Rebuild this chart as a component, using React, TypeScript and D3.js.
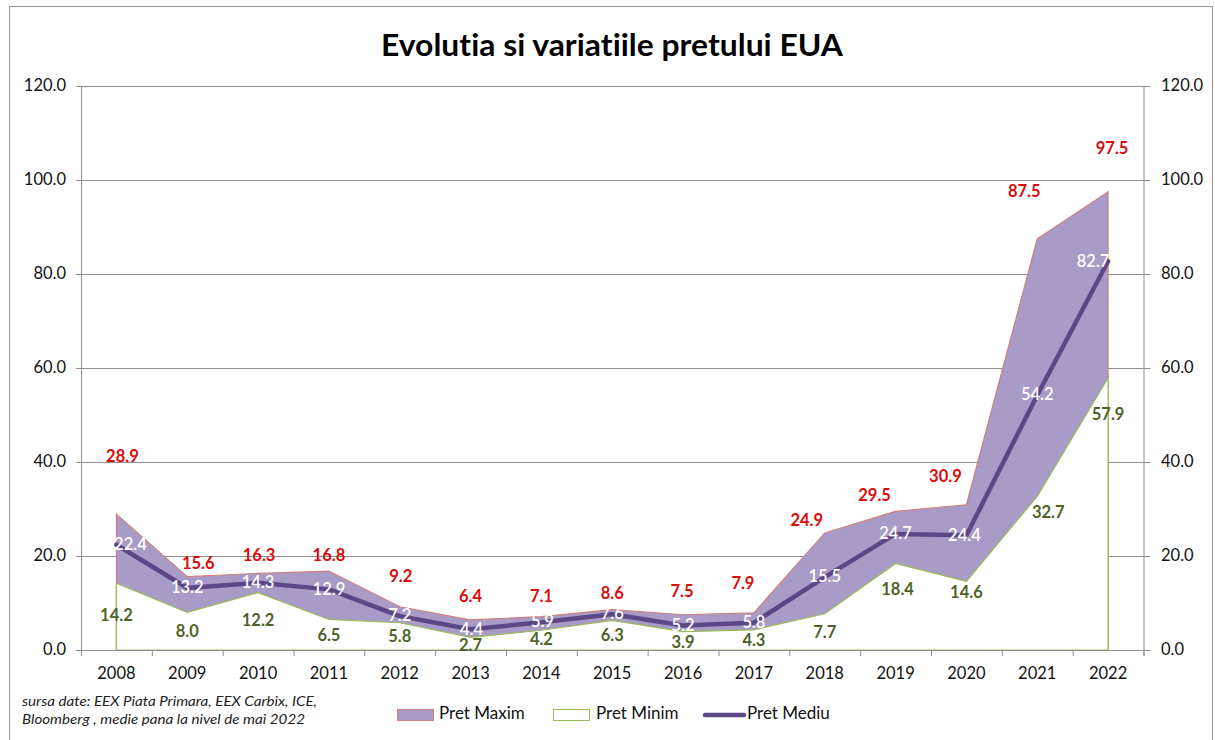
import React from "react";
import * as d3 from "d3";

const years = ["2008","2009","2010","2011","2012","2013","2014","2015","2016","2017","2018","2019","2020","2021","2022"];
const pretMaxim = [28.9, 15.6, 16.3, 16.8, 9.2, 6.4, 7.1, 8.6, 7.5, 7.9, 24.9, 29.5, 30.9, 87.5, 97.5];
const pretMinim = [14.2, 8.0, 12.2, 6.5, 5.8, 2.7, 4.2, 6.3, 3.9, 4.3, 7.7, 18.4, 14.6, 32.7, 57.9];
const pretMediu = [22.4, 13.2, 14.3, 12.9, 7.2, 4.4, 5.9, 7.6, 5.2, 5.8, 15.5, 24.7, 24.4, 54.2, 82.7];
const yTicks = [0, 20, 40, 60, 80, 100, 120];

// label offsets (layout only)
const maxDx = [6, 11, 1, 0, 1, 0, 0, 0, -1, -11, -18, -21, -21, -13, 4];
const maxDy = [-56, -12, -17, -14, -29, -22, -19, -15, -22, -28, -11, -15, -27, -46, -42];
const medDx = [14, 0, 0, 0, 0, 1, 1, 0, 0, 0, 0, 0, -2, 0, -15];
const minDx = [0, 0, 0, 0, 0, 0, 0, 0, 0, 0, 0, 2, 0, 11, 0];
const minDy = [34, 20, 29, 17, 15, 9, 11, 16, 12, 12, 20, 27, 12, 17, 38];

const W = 1215, H = 740;
const L = 81, R = 1143.5, T = 86, B = 650;
const FONT = "Lato, 'Open Sans', sans-serif";
const NOLIG: React.CSSProperties = { fontVariantLigatures: "none", fontFeatureSettings: "'liga' 0, 'clig' 0" };

const PURPLE = "#A89BC7";
const RED_BORDER = "#D0807E";
const GREEN_BORDER = "#9BBB59";
const MEAN = "#5C4887";
const GRID = "#8E8E8E";

export default function App() {
  const x = d3.scaleBand<string>().domain(years).range([L, R]).padding(0);
  const bw = x.bandwidth();
  const cx = (i: number) => (x(years[i]) as number) + bw / 2;
  const y = d3.scaleLinear().domain([0, 120]).range([B, T]);

  const idx = years.map((_, i) => i);
  const areaMax = d3.area<number>().x((i) => cx(i)).y0(y(0)).y1((i) => y(pretMaxim[i]));
  const areaMin = d3.area<number>().x((i) => cx(i)).y0(y(0)).y1((i) => y(pretMinim[i]));
  const lineMed = d3.line<number>().x((i) => cx(i)).y((i) => y(pretMediu[i]));

  const boundaries = d3.range(years.length + 1).map((k) => L + k * bw);

  return (
    <svg width={W} height={H} style={{ position: "absolute", left: 0, top: 0, background: "#fff", ...NOLIG }}
      xmlns="http://www.w3.org/2000/svg">
      <rect x={0} y={0} width={W} height={H} fill="#fff" />
      <rect x={9.5} y={6.5} width={1203} height={760} fill="none" stroke="#9a9a9a" strokeWidth={1} />

      <text x={612} y={56} textAnchor="middle" fontFamily={FONT} fontWeight={700} fontSize={30}
        textLength={462} lengthAdjust="spacingAndGlyphs" fill="#000" style={{ ...NOLIG, letterSpacing: "0.01px" }}>
        Evolutia si variatiile pretului EUA
      </text>

      {/* gridlines */}
      {yTicks.map((t) => (
        <line key={"g" + t} x1={L} x2={R} y1={y(t) + 0.5} y2={y(t) + 0.5} stroke={GRID} strokeWidth={1} />
      ))}
      {/* axes */}
      <line x1={L + 0.5} x2={L + 0.5} y1={T} y2={B + 6} stroke={GRID} />
      <line x1={R + 0.5} x2={R + 0.5} y1={T} y2={B + 6} stroke={GRID} />
      {yTicks.map((t) => (
        <g key={"t" + t}>
          <line x1={L - 5} x2={L} y1={y(t) + 0.5} y2={y(t) + 0.5} stroke={GRID} />
          <line x1={R} x2={R + 7} y1={y(t) + 0.5} y2={y(t) + 0.5} stroke={GRID} />
          <text x={66} y={y(t) + 1} dominantBaseline="middle" textAnchor="end" fontFamily={FONT} fontSize={16.5} fill="#111">
            {t.toFixed(1)}
          </text>
          <text x={1161} y={y(t) + 1} dominantBaseline="middle" textAnchor="start" fontFamily={FONT} fontSize={16.5} fill="#111">
            {t.toFixed(1)}
          </text>
        </g>
      ))}
      {boundaries.map((bx, k) => (
        <line key={"xb" + k} x1={bx + 0.5} x2={bx + 0.5} y1={B} y2={B + 6} stroke={GRID} />
      ))}
      {years.map((yr, i) => (
        <text key={"yl" + yr} x={cx(i)} y={675} dominantBaseline="middle" textAnchor="middle" fontFamily={FONT} fontSize={16.5} fill="#111">
          {yr}
        </text>
      ))}

      {/* series */}
      <path d={areaMax(idx) as string} fill={PURPLE} stroke={RED_BORDER} strokeWidth={1.2} />
      <path d={areaMin(idx) as string} fill="#fff" stroke={GREEN_BORDER} strokeWidth={1.2} />
      <line x1={L} x2={R} y1={B + 0.5} y2={B + 0.5} stroke={GRID} />
      <path d={lineMed(idx) as string} fill="none" stroke={MEAN} strokeWidth={4.5} strokeLinejoin="round" strokeLinecap="round" />

      {/* labels */}
      {idx.map((i) => (
        <text key={"ml" + i} x={cx(i) + maxDx[i]} y={y(pretMaxim[i]) + maxDy[i]} dominantBaseline="middle" textAnchor="middle"
          fontFamily={FONT} fontWeight={700} fontSize={16.5} fill="#DD0A0A">
          {pretMaxim[i].toFixed(1)}
        </text>
      ))}
      {idx.map((i) => (
        <text key={"nl" + i} x={cx(i) + minDx[i]} y={y(pretMinim[i]) + minDy[i]} dominantBaseline="middle" textAnchor="middle"
          fontFamily={FONT} fontWeight={700} fontSize={16.5} fill="#4F6228">
          {pretMinim[i].toFixed(1)}
        </text>
      ))}
      {idx.map((i) => (
        <text key={"al" + i} x={cx(i) + medDx[i]} y={y(pretMediu[i]) + 1} dominantBaseline="middle" textAnchor="middle"
          fontFamily={FONT} fontWeight={600} fontSize={16.5} fill="#ffffff">
          {pretMediu[i].toFixed(1)}
        </text>
      ))}

      {/* source note */}
      <text x={22} y={702} dominantBaseline="middle" fontFamily={FONT} fontStyle="italic" fontSize={14} fill="#222"
        textLength={295} lengthAdjust="spacingAndGlyphs">
        sursa  date: EEX Piata Primara, EEX Carbix, ICE,
      </text>
      <text x={22} y={720} dominantBaseline="middle" fontFamily={FONT} fontStyle="italic" fontSize={14} fill="#222"
        textLength={283} lengthAdjust="spacingAndGlyphs">
        Bloomberg , medie pana la nivel de mai 2022
      </text>

      {/* legend */}
      <rect x={397.5} y={709.5} width={36} height={11} fill={PURPLE} stroke={RED_BORDER} strokeWidth={1} />
      <text x={439} y={715} dominantBaseline="middle" fontFamily={FONT} fontSize={17} fill="#111">Pret Maxim</text>
      <rect x={553.5} y={709.5} width={36} height={11} fill="#fff" stroke={GREEN_BORDER} strokeWidth={1} />
      <text x={596} y={715} dominantBaseline="middle" fontFamily={FONT} fontSize={17} fill="#111">Pret Minim</text>
      <line x1={705} x2={744} y1={715} y2={715} stroke={MEAN} strokeWidth={4.5} strokeLinecap="round" />
      <text x={747} y={715} dominantBaseline="middle" fontFamily={FONT} fontSize={17} fill="#111">Pret Mediu</text>
    </svg>
  );
}
